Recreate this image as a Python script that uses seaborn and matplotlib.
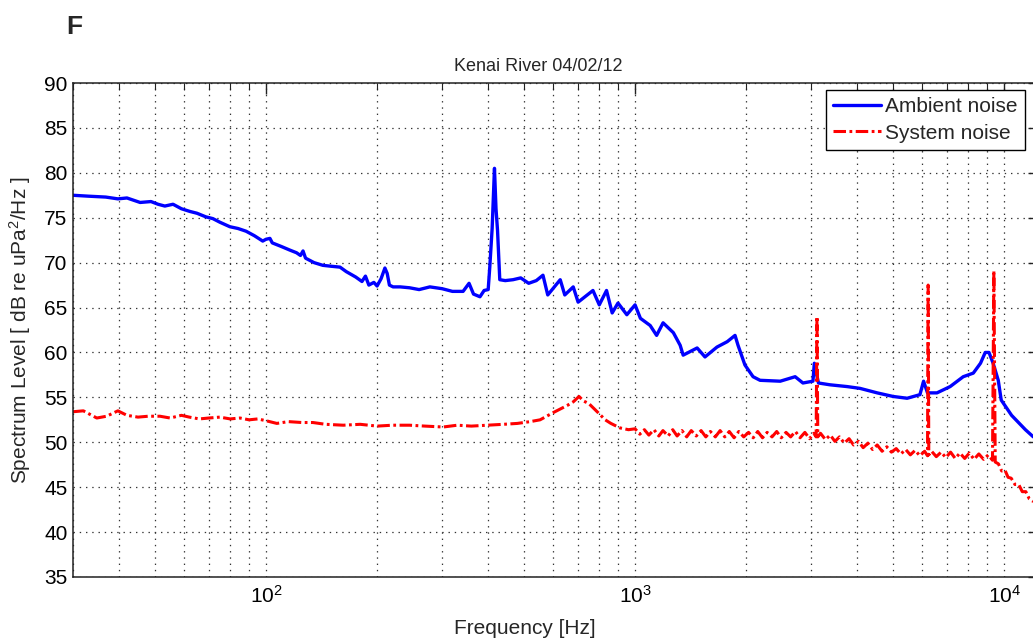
import numpy as np
import pandas as pd
import matplotlib
matplotlib.use("Agg")
import matplotlib.pyplot as plt
import seaborn as sns

# Ambient noise (blue)
ambient_freq = [30, 33, 36.8, 39.7, 42, 45.6, 48.8, 51, 53.2, 56, 59, 62.2, 65, 68.7, 71.8, 75,
                79.8, 84, 88.3, 93, 98, 100, 102.5, 104, 110, 116, 121, 124, 126, 128, 135, 142.6,
                150, 158.7, 165, 175, 182, 186, 190, 196, 200, 205, 210, 213, 216, 221, 231, 245,
                260, 278, 300, 320, 342, 355, 365, 380, 390, 400, 404, 410, 416, 420, 424, 430,
                445, 467, 490, 515, 540, 563, 580, 627, 645, 680, 701, 769, 800, 837, 867, 899,
                950, 1000, 1034, 1099, 1144, 1191, 1270, 1325, 1350, 1473, 1547, 1667, 1777, 1866,
                1901, 1985, 2088, 2181, 2474, 2715, 2850, 3034, 3060, 3140, 3372, 3756, 4070, 4530,
                5004, 5460, 5913, 6050, 6200, 6577, 7140, 7748, 8250, 8630, 8888, 9100, 9336, 9640,
                9820, 10476, 11420, 12000]
ambient_db = [77.5, 77.4, 77.3, 77.1, 77.2, 76.7, 76.8, 76.5, 76.3, 76.5, 76.0, 75.7, 75.5, 75.1, 74.9, 74.5,
              74.0, 73.8, 73.5, 73.0, 72.4, 72.6, 72.7, 72.2, 71.8, 71.4, 71.1, 70.8, 71.3, 70.5, 70.0, 69.7,
              69.6, 69.5, 69.0, 68.4, 67.9, 68.5, 67.5, 67.8, 67.4, 68.2, 69.4, 68.8, 67.5, 67.3, 67.3, 67.2,
              67.0, 67.3, 67.1, 66.8, 66.8, 67.7, 66.5, 66.2, 66.9, 67.0, 69.5, 73.8, 80.5, 76.0, 73.6, 68.1,
              68.0, 68.1, 68.3, 67.7, 68.0, 68.6, 66.4, 68.1, 66.4, 67.3, 65.6, 66.9, 65.3, 66.9, 64.4, 65.5,
              64.2, 65.3, 63.8, 63.0, 61.9, 63.3, 62.2, 60.8, 59.7, 60.5, 59.5, 60.6, 61.2, 61.9,
              60.8, 58.6, 57.3, 56.9, 56.8, 57.3, 56.6, 56.8, 58.8, 56.6, 56.4, 56.2, 56.0, 55.5,
              55.1, 54.9, 55.3, 56.8, 55.5, 55.5, 56.2, 57.3, 57.7, 58.8, 60.0, 60.0, 58.8, 56.9,
              54.7, 53.0, 51.4, 50.6]

# System noise (red); above 1 kHz the trace is a noisy band
system_freq = [30, 32, 34.8, 37, 39.7, 42, 45, 48, 51.6, 55, 59, 62, 66, 70, 75, 80, 85, 90, 95, 100,
               107, 115, 125, 134, 145, 162, 180, 200, 220, 245, 270, 302, 330, 360, 400, 440, 480, 520,
               553, 600, 655, 680, 705, 725, 750, 794, 830, 860, 910, 960,
               1000, 1030, 1060, 1090, 1125, 1160, 1190, 1230, 1265, 1300, 1340, 1380, 1420, 1465, 1510,
               1555, 1600, 1650, 1700, 1750, 1800, 1855, 1910, 1970, 2030, 2090, 2150, 2215, 2280, 2350,
               2420, 2490, 2565, 2640, 2720, 2800, 2885, 2970, 3050, 3095, 3111, 3127, 3180, 3280, 3380,
               3480, 3580, 3690, 3800, 3910, 4030, 4150, 4275, 4400, 4530, 4670, 4810, 4950, 5100, 5250,
               5410, 5570, 5740, 5910, 6090, 6200, 6225, 6250, 6360, 6550, 6750, 6950, 7160, 7370, 7590,
               7820, 8050, 8290, 8540, 8800, 9060, 9300, 9380, 9460, 9650, 9850, 10050, 10250, 10450,
               10700, 10950, 11200, 11450, 11700, 12000]
system_db = [53.4, 53.5, 52.7, 52.9, 53.5, 53.0, 52.8, 52.9, 52.9, 52.7, 53.0, 52.8, 52.6, 52.7, 52.8, 52.6,
             52.7, 52.5, 52.6, 52.4, 52.1, 52.3, 52.2, 52.2, 52.0, 51.9, 52.0, 51.8, 51.9, 51.9, 51.8, 51.7,
             51.9, 51.8, 51.9, 52.0, 52.1, 52.3, 52.5, 53.3, 54.1, 54.5, 55.1, 54.6, 54.3, 53.3, 52.5, 52.1,
             51.6, 51.4,
             51.5, 50.9, 51.4, 50.8, 51.4, 50.7, 51.3, 50.7, 51.4, 50.7, 51.3, 50.6, 51.3, 50.7, 51.3,
             50.6, 51.2, 50.6, 51.3, 50.6, 51.2, 50.5, 51.2, 50.6, 51.1, 50.5, 51.2, 50.5, 51.1, 50.6,
             51.2, 50.5, 51.1, 50.6, 51.2, 50.5, 51.1, 50.4, 51.0, 50.6, 64.0, 50.6, 51.0, 50.3, 50.8,
             50.1, 50.6, 49.9, 50.4, 49.7, 50.1, 49.4, 49.9, 49.2, 49.7, 49.0, 49.5, 48.9, 49.3, 48.7,
             49.2, 48.6, 49.1, 48.5, 49.0, 48.5, 67.5, 48.6, 49.0, 48.4, 48.9, 48.3, 48.9, 48.2, 48.8,
             48.2, 48.8, 48.1, 48.7, 48.1, 48.6, 48.0, 69.1, 47.8, 47.6, 46.8, 46.9, 46.1, 46.0,
             45.3, 45.3, 44.5, 44.5, 43.7, 43.4]

y_ticks = [35, 40, 45, 50, 55, 60, 65, 70, 75, 80, 85, 90]

assert len(ambient_freq) == len(ambient_db)
assert len(system_freq) == len(system_db)

ambient = pd.DataFrame({"freq": ambient_freq, "level": ambient_db})
system = pd.DataFrame({"freq": system_freq, "level": system_db})

sns.set_theme(style="white")
plt.rcParams["font.family"] = ["Liberation Sans", "DejaVu Sans"]
plt.rcParams["mathtext.fontset"] = "custom"
plt.rcParams["mathtext.rm"] = "Liberation Sans"
plt.rcParams["mathtext.it"] = "Liberation Sans:italic"
plt.rcParams["mathtext.default"] = "regular"
plt.rcParams["lines.scale_dashes"] = False  # dash lengths in points, not scaled by width

fig = plt.figure(figsize=(10.33, 6.39), dpi=100)
# axes runs slightly past the right edge (cropped like the original)
ax = fig.add_axes([73 / 1033, 62 / 639, (1036 - 73) / 1033, 494 / 639])
ax.set_xscale("log")

sns.lineplot(data=ambient, x="freq", y="level", ax=ax, color="#0000ff",
             linewidth=2.4, estimator=None, sort=False, label="Ambient noise")
sns.lineplot(data=system, x="freq", y="level", ax=ax, color="#ff0000",
             linewidth=2.2, linestyle=(0, (9, 2.5, 2, 2.5)), estimator=None,
             sort=False, label="System noise")

ax.set_xlim(30, 12200)
ax.set_ylim(35, 90)
ax.set_yticks(y_ticks)

grid_kw = dict(linestyle=(0, (1, 3.5)), color="#333333", linewidth=0.9)
ax.grid(which="major", axis="both", **grid_kw)
ax.grid(which="minor", axis="x", **grid_kw)
ax.tick_params(axis="both", which="both", direction="in", top=True, right=True,
               labelsize=15, colors="#222222", labelcolor="black")
ax.tick_params(axis="x", which="major", length=8, width=1, pad=6)
ax.tick_params(axis="x", which="minor", length=5, width=0.8)
ax.tick_params(axis="y", which="major", length=6, width=1, pad=4)
for sp in ax.spines.values():
    sp.set_color("#222222")
    sp.set_linewidth(1.1)

ax.set_xlabel("Frequency [Hz]", fontsize=15)
ax.xaxis.set_label_coords((525 - 73) / 963, -0.085)
ax.set_ylabel(r"Spectrum Level [ dB re uPa$^2$/Hz ]", fontsize=15, labelpad=8)
ax.set_title("Kenai River 04/02/12", fontsize=13, pad=9, x=(538 - 73) / 963)

leg = ax.legend(loc="upper left", bbox_to_anchor=(826 / 1033, 1 - 90 / 639),
                bbox_transform=fig.transFigure, borderaxespad=0, fontsize=15,
                frameon=True, fancybox=False, framealpha=1, edgecolor="black",
                handlelength=2.3, handletextpad=0.2, borderpad=0.35,
                labelspacing=0.35)
leg.get_frame().set_linewidth(1.0)

fig.text(66 / 1033, 1 - 34 / 639, "F", fontsize=19, fontweight="bold", va="baseline")

fig.savefig("out.png", dpi=100)
